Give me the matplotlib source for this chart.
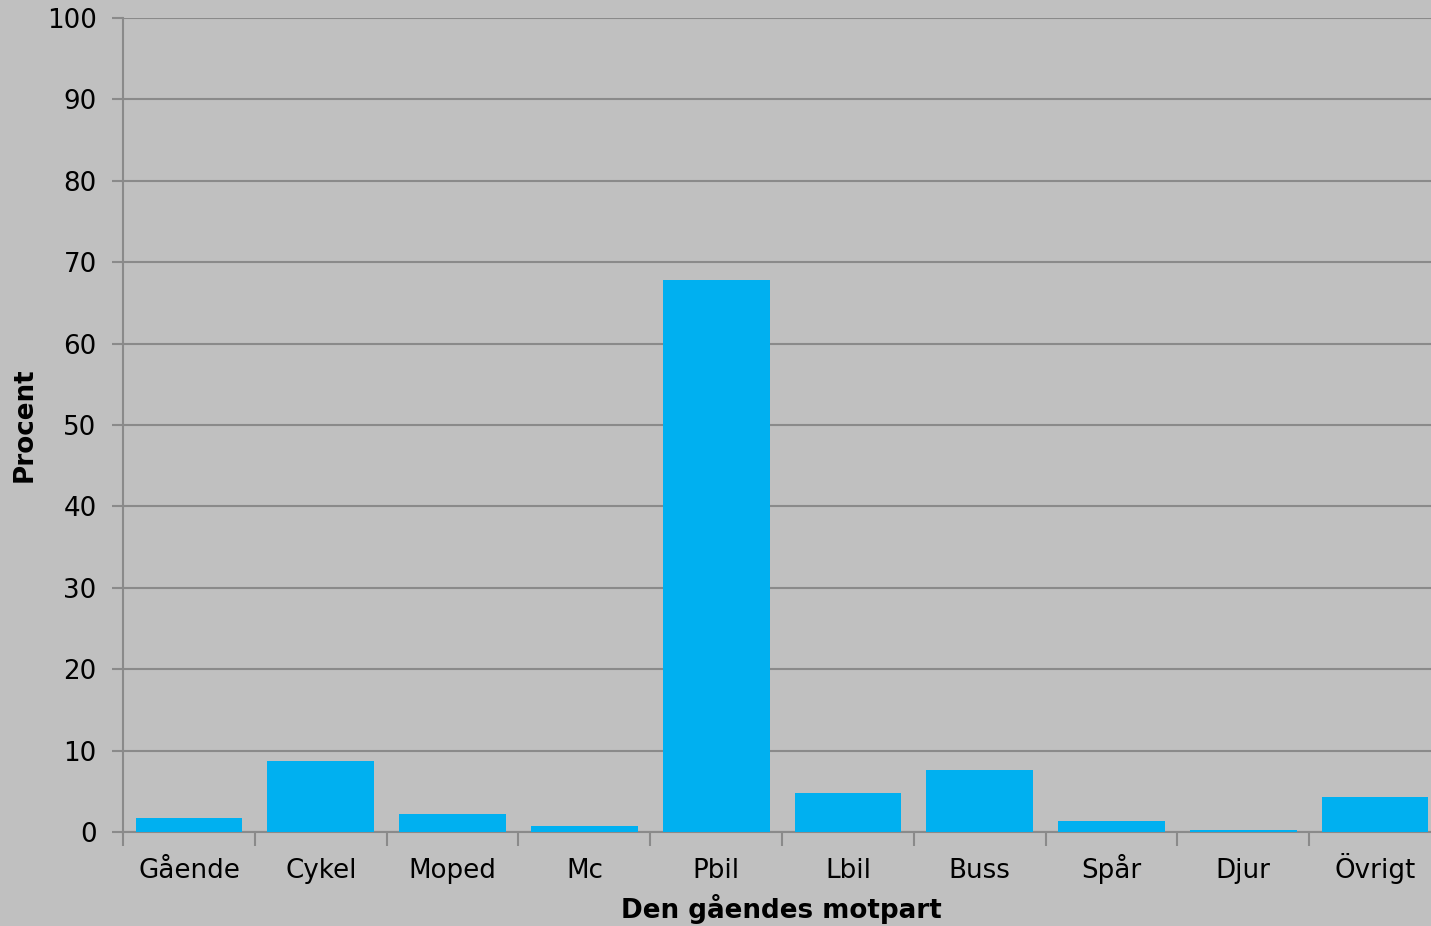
import matplotlib.pyplot as plt
import numpy as np

# Data
categories = ['Gående', 'Cykel', 'Moped', 'Mc', 'Pbil', 'Lbil', 'Buss', 'Spår', 'Djur', 'Övrigt']
percent = [1.7, 8.7, 2.2, 0.7, 67.8, 4.8, 7.6, 1.4, 0.2, 4.3]

bg = '#C0C0C0'
grid_col = '#8A8A8A'
bar_col = '#00B0F0'

fig = plt.figure(figsize=(14.31, 9.26), dpi=100, facecolor=bg)
# the plot area runs slightly past the right edge of the picture
ax = fig.add_axes([0.086, 0.1015, 0.921, 0.879])
ax.set_facecolor(bg)

x = np.arange(len(categories))
ax.bar(x, percent, width=0.81, color=bar_col, zorder=3)

ax.set_xlim(-0.5, len(categories) - 0.5)
ax.set_ylim(0, 100)
ax.set_yticks(range(0, 101, 10))
ax.yaxis.grid(True, color=grid_col, linewidth=1.5, zorder=0)

# category labels centered, tick marks at boundaries
ax.set_xticks(x)
ax.set_xticklabels(categories, fontsize=18.8, va='baseline')
ax.set_xticks(np.arange(-0.5, len(categories)), minor=True)
ax.tick_params(axis='x', which='major', length=0, pad=33)
ax.tick_params(axis='x', which='minor', length=10, width=1.5, color=grid_col)
ax.tick_params(axis='y', length=8, width=1.5, color=grid_col, labelsize=18.8, pad=11)

for s in ['top', 'right']:
    ax.spines[s].set_visible(False)
for s in ['left', 'bottom']:
    ax.spines[s].set_color(grid_col)
    ax.spines[s].set_linewidth(1.5)

fig.text(0.546, 0.018, 'Den gåendes motpart', fontsize=18.8, fontweight='bold',
         ha='center', va='center')
fig.text(25 / 1431, 0.541, 'Procent', fontsize=18.8, fontweight='bold',
         rotation=90, ha='center', va='center')

fig.savefig('out.png', dpi=100, facecolor=bg)
